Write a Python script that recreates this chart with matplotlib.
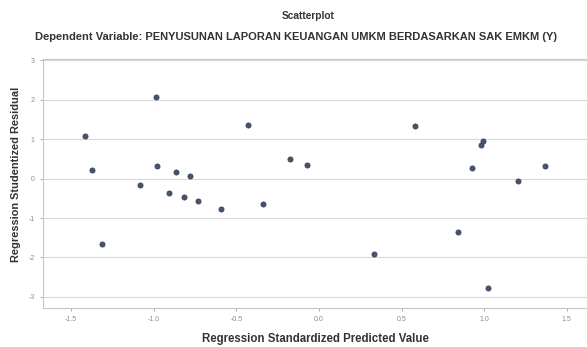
import matplotlib
matplotlib.use('Agg')
import matplotlib.pyplot as plt

# Regression standardized predicted value vs studentized residual
pred = [-1.413, -1.375, -1.312, -0.988, -0.978, -1.081, -0.865, -0.907,
        -0.780, -0.815, -0.732, -0.593, -0.427, -0.337, -0.175, -0.069,
        0.581, 0.978, 0.992, 0.926, 1.368, 1.204, 0.841, 0.335, 1.021]
resid = [1.066, 0.220, -1.667, 2.056, 0.312, -0.160, 0.170, -0.363,
         0.058, -0.475, -0.566, -0.761, 1.345, -0.635, 0.508, 0.348,
         1.338, 0.855, 0.940, 0.279, 0.322, -0.050, -1.363, -1.921, -2.766]

x_ticks = [-1.5, -1.0, -0.5, 0.0, 0.5, 1.0, 1.5]
y_ticks = [-3, -2, -1, 0, 1, 2, 3]

plt.rcParams['font.family'] = ['Liberation Sans', 'DejaVu Sans']

fig = plt.figure(figsize=(5.87, 3.47), dpi=100)
ax = fig.add_axes([0.0733, 0.1124, 0.9267, 0.7176])

ax.scatter(pred, resid, s=14, color='#44546a', edgecolors='#34404f',
           linewidths=0.5, zorder=3)

ax.set_xlim(-1.669, 1.622)
ax.set_ylim(-3.28, 3.03)
ax.set_xticks(x_ticks)
ax.set_xticklabels([f'{v:.1f}' for v in x_ticks])
ax.set_yticks(y_ticks)
ax.set_yticklabels([str(v) for v in y_ticks])

ax.grid(axis='y', color='#d9d9d9', linewidth=0.8)
ax.set_axisbelow(True)
ax.tick_params(labelsize=5, colors='#8c8c8c', length=2, width=0.5, pad=4)

for side in ['left', 'bottom', 'top']:
    ax.spines[side].set_color('#c8c8c8')
    ax.spines[side].set_linewidth(0.8)
ax.spines['right'].set_visible(False)

ax.set_xlabel('Regression Standardized Predicted Value', fontsize=8.3,
              fontweight='bold', color='#333333', labelpad=7)
ax.set_ylabel('Regression Studentized Residual', fontsize=7.9,
              fontweight='bold', color='#333333')
ax.yaxis.set_label_coords(-0.040, 0.538)

fig.text(0.525, 0.955, 'Scatterplot', ha='center', va='center',
         fontsize=7.3, fontweight='bold', color='#333333')
fig.text(0.504, 0.893,
         'Dependent Variable: PENYUSUNAN LAPORAN KEUANGAN UMKM BERDASARKAN SAK EMKM (Y)',
         ha='center', va='center', fontsize=8, fontweight='bold', color='#333333')

fig.savefig('out.png', dpi=100, facecolor='white')
